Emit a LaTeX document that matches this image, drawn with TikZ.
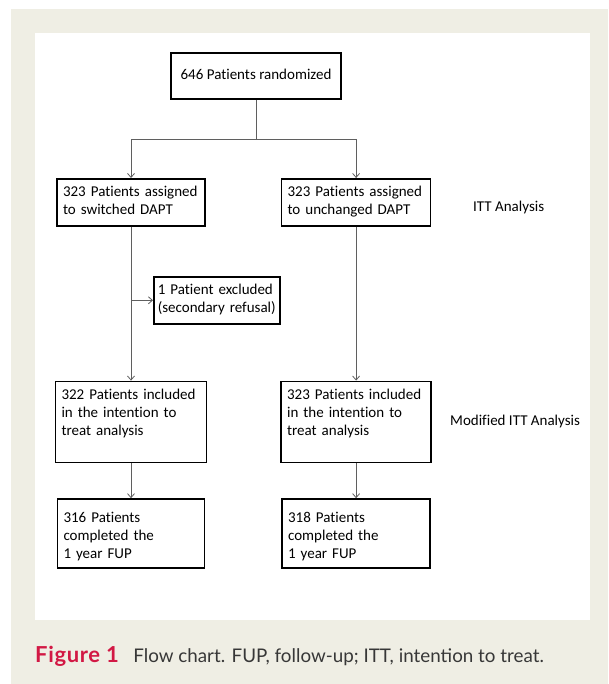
\documentclass[tikz,border=0pt]{standalone}
\usepackage{fontspec}
\setmainfont{Carlito}[Ligatures=NoCommon]
\newfontfamily\capfont{Lato}
\usetikzlibrary{arrows.meta,positioning}
\definecolor{pagebeige}{RGB}{239,238,228}
\definecolor{figred}{RGB}{210,24,68}
\definecolor{linegray}{RGB}{95,95,95}
\definecolor{captext}{RGB}{55,55,55}
\tikzset{
  box/.style={draw, line width=1.6pt, font=\fontsize{15}{18}\selectfont, align=left,
    inner xsep=6pt, inner ysep=6pt, text height=12pt},
  link/.style={draw=linegray, line width=0.8pt},
  flow/.style={link, -{Straight Barb[length=4pt,width=7pt]}},
  tag/.style={font=\fontsize{15}{18}\selectfont, anchor=west, inner sep=0pt},
}
\begin{document}
\begin{tikzpicture}[x=1pt,y=-1pt]
    \fill[pagebeige] (11,9) rectangle (608,684);
    \fill[white] (35,33) rectangle (590,620);
    \useasboundingbox (0,0) rectangle (608,684);

    % boxes
    \node[box, align=center, text height=11pt, text depth=3pt, minimum width=170pt, minimum height=46pt] (rand) at (256,76) {646 Patients randomized};
    \node[box, text width=136pt, text depth=23pt, anchor=north] (sw) at (131,178) {323 Patients assigned\\to switched DAPT};
    \node[box, text width=137pt, text depth=23pt, right=75pt of sw] (un) {323 Patients assigned\\to unchanged DAPT};
    \node[box, text width=118pt, inner xsep=4pt, text depth=23pt, anchor=north west] (excl) at (153,276) {1 Patient excluded\\(secondary refusal)};
    \node[box, text width=139pt, text depth=57pt, below=154pt of sw] (switt) {322 Patients included\\in the intention to\\treat analysis};
    \node[box, text width=138pt, text depth=57pt, below=154pt of un] (unitt) {323 Patients included\\in the intention to\\treat analysis};
    \node[box, text width=135pt, text height=17pt, text depth=40pt, below=35pt of switt] (swfup) {316 Patients\\completed the\\1 year FUP};
    \node[box, text width=136pt, text height=17pt, text depth=40pt, below=35pt of unitt] (unfup) {318 Patients\\completed the\\1 year FUP};

    % analysis labels
    \node[tag] (itt) at (473,208) {ITT Analysis};
    \node[tag] (mitt) at (450,421) {Modified ITT Analysis};

    % connectors
    \draw[link] (rand.south) -- ++(0,40) coordinate (fork);
    \draw[flow] (fork) -| (sw.north);
    \draw[flow] (fork) -| (un.north);
    \draw[flow] (sw) -- (switt);
    \draw[flow] (sw.south |- excl.west) -- (excl.west);
    \draw[flow] (un) -- (unitt);
    \draw[flow] (switt) -- (swfup);
    \draw[flow] (unitt) -- (unfup);

    % caption
    \node[anchor=base west, inner sep=0pt, text=figred, font=\capfont\bfseries\fontsize{22}{24}\selectfont\addfontfeature{LetterSpace=3}] (fig) at (35,662) {Figure 1};
    \node[base right=14pt of fig, inner sep=0pt, text=captext, font=\capfont\fontsize{18.8}{22}\selectfont] (cap) {Flow chart. FUP, follow-up; ITT, intention to treat.};
\end{tikzpicture}
\end{document}
